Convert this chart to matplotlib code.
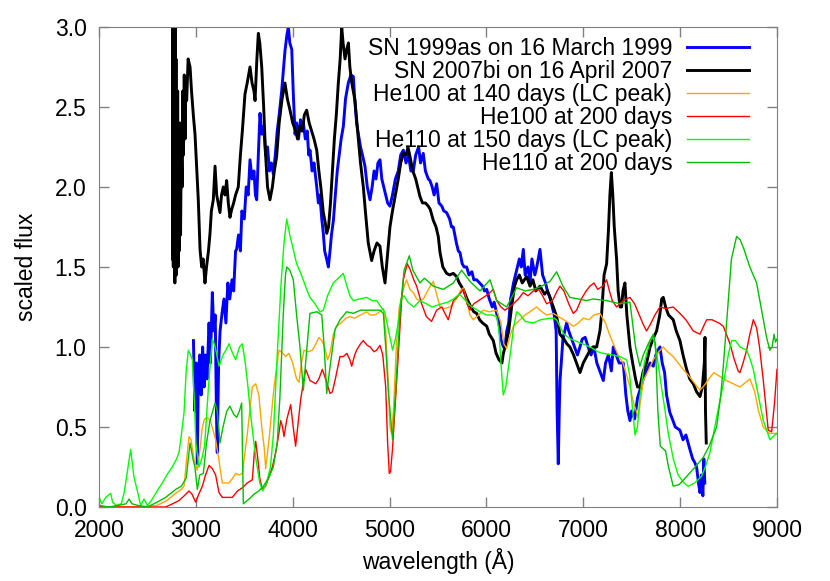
import matplotlib
matplotlib.use("Agg")
import matplotlib.pyplot as plt

plt.rcParams['font.family'] = ['Liberation Sans', 'DejaVu Sans']
plt.rcParams['font.size'] = 16.5

# SN 1999as (observed)
sn99_wl = [2975, 2990, 3005, 3015, 3025, 3040, 3055, 3070, 3085, 3100, 3115, 3136, 3150, 3170, 3185,
           3200, 3212, 3221, 3235, 3250, 3270, 3290, 3310, 3330, 3350, 3373, 3390, 3410, 3421, 3440,
           3460, 3475, 3500, 3520, 3540, 3559, 3580, 3600, 3615, 3628, 3645, 3662, 3680, 3700, 3720,
           3740, 3760, 3780, 3800, 3820, 3840, 3860, 3886, 3900, 3920, 3940, 3955, 3970, 3990, 4005,
           4024, 4040, 4060, 4080, 4095, 4110, 4130, 4150, 4165, 4179, 4200, 4220, 4248, 4265, 4280,
           4300, 4316, 4330, 4350, 4368, 4385, 4400, 4420, 4440, 4460, 4480, 4500, 4523, 4545, 4560,
           4574, 4600, 4626, 4640, 4660, 4678, 4700, 4720, 4746, 4770, 4798, 4820, 4840, 4860, 4880,
           4901, 4920, 4940, 4960, 4980, 5004, 5030, 5060, 5090, 5115, 5142, 5170, 5195, 5220, 5245,
           5270, 5300, 5320, 5348, 5370, 5400, 5417, 5440, 5460, 5486, 5510, 5540, 5560, 5589, 5620,
           5640, 5658, 5690, 5710, 5727, 5750, 5770, 5796, 5820, 5850, 5870, 5899, 5930, 5960, 5980,
           6003, 6030, 6060, 6080, 6106, 6130, 6150, 6175, 6192, 6210, 6230, 6250, 6280, 6312, 6340,
           6360, 6381, 6400, 6430, 6450, 6470, 6500, 6520, 6553, 6580, 6610, 6630, 6656, 6680, 6700,
           6720, 6730, 6742, 6752, 6760, 6790, 6828, 6850, 6880, 6910, 6940, 6966, 6990, 7020, 7050,
           7080, 7110, 7140, 7170, 7207, 7230, 7260, 7290, 7310, 7340, 7370, 7413, 7440, 7460, 7482,
           7500, 7530, 7560, 7585, 7620, 7650, 7690, 7723, 7750, 7770, 7792, 7815, 7840, 7860, 7894,
           7920, 7950, 7998, 8030, 8060, 8101, 8130, 8150, 8170, 8190, 8205, 8220, 8235, 8245, 8255]
sn99_flux = [1.04, 0.60, 0.90, 0.27, 0.80, 0.95, 0.70, 1.00, 0.75, 0.95, 0.80, 1.15, 0.90, 1.34, 1.10,
             1.20, 0.60, 0.34, 0.90, 1.10, 1.21, 1.30, 1.15, 1.40, 1.30, 1.42, 1.35, 1.60, 1.61, 1.70,
             1.60, 1.85, 1.80, 2.00, 1.95, 2.17, 2.05, 2.10, 1.95, 1.92, 2.20, 2.46, 2.33, 2.38, 2.20,
             2.25, 2.10, 2.15, 2.08, 2.20, 2.35, 2.45, 2.60, 2.70, 2.85, 2.95, 3.00, 2.90, 2.86, 2.60,
             2.33, 2.40, 2.30, 2.42, 2.35, 2.40, 2.30, 2.35, 2.20, 2.23, 2.10, 2.15, 2.00, 1.90, 1.95,
             1.80, 1.71, 1.60, 1.55, 1.50, 1.60, 1.70, 1.79, 1.95, 2.10, 2.20, 2.30, 2.38, 2.55, 2.60,
             2.65, 2.70, 2.69, 2.55, 2.40, 2.33, 2.25, 2.20, 2.13, 2.00, 1.92, 2.00, 2.10, 2.05, 2.15,
             2.17, 2.05, 2.00, 1.95, 1.90, 1.88, 1.95, 2.05, 2.10, 2.20, 2.23, 2.15, 2.20, 2.10, 2.10,
             2.20, 2.25, 2.15, 2.21, 2.10, 2.05, 2.04, 2.00, 1.95, 2.02, 1.90, 1.88, 1.85, 1.84, 1.80,
             1.75, 1.75, 1.65, 1.60, 1.59, 1.52, 1.50, 1.50, 1.45, 1.47, 1.42, 1.42, 1.40, 1.38, 1.35,
             1.36, 1.30, 1.25, 1.28, 1.21, 1.15, 1.05, 1.00, 1.00, 1.10, 1.15, 1.30, 1.40, 1.48, 1.55,
             1.50, 1.61, 1.45, 1.50, 1.40, 1.55, 1.45, 1.50, 1.61, 1.45, 1.40, 1.35, 1.31, 1.25, 1.20,
             1.10, 0.60, 0.27, 0.60, 0.79, 1.05, 1.15, 1.10, 1.05, 1.00, 0.95, 1.00, 1.05, 1.06, 1.00,
             0.95, 1.00, 0.90, 0.85, 0.79, 0.90, 0.95, 0.85, 1.00, 0.95, 0.90, 0.90, 0.70, 0.60, 0.54,
             0.60, 0.55, 0.68, 0.73, 0.80, 0.85, 0.90, 0.88, 0.95, 0.98, 1.00, 0.90, 0.84, 0.70, 0.59,
             0.55, 0.50, 0.48, 0.42, 0.45, 0.36, 0.30, 0.28, 0.25, 0.15, 0.09, 0.20, 0.07, 0.30, 0.15]

# SN 2007bi (observed)
sn07_wl = [2760, 2763, 2767, 2771, 2775, 2779, 2783, 2787, 2791, 2795, 2799, 2803, 2808, 2812, 2816,
           2822, 2828, 2835, 2842, 2850, 2858, 2865, 2872, 2880, 2888, 2895, 2905, 2920, 2940, 2955,
           2975, 2991, 3010, 3025, 3043, 3060, 3075, 3094, 3110, 3130, 3146, 3160, 3180, 3198, 3215,
           3230, 3249, 3265, 3283, 3300, 3318, 3335, 3352, 3370, 3390, 3410, 3438, 3460, 3480, 3507,
           3530, 3559, 3580, 3600, 3611, 3630, 3645, 3660, 3680, 3700, 3720, 3740, 3765, 3790, 3810,
           3834, 3860, 3890, 3920, 3945, 3972, 4000, 4030, 4050, 4075, 4100, 4120, 4144, 4170, 4195,
           4220, 4248, 4270, 4290, 4316, 4335, 4351, 4370, 4390, 4410, 4430, 4450, 4471, 4490, 4506,
           4520, 4540, 4558, 4575, 4590, 4610, 4643, 4670, 4700, 4729, 4750, 4780, 4815, 4840, 4870,
           4901, 4925, 4953, 4975, 5004, 5030, 5060, 5090, 5115, 5142, 5170, 5190, 5211, 5240, 5270,
           5290, 5314, 5340, 5370, 5400, 5420, 5452, 5480, 5503, 5521, 5550, 5589, 5620, 5658, 5692,
           5720, 5761, 5800, 5840, 5870, 5899, 5930, 5960, 6003, 6030, 6071, 6100, 6130, 6160, 6175,
           6200, 6230, 6260, 6290, 6312, 6340, 6370, 6415, 6450, 6480, 6510, 6553, 6600, 6630, 6656,
           6690, 6725, 6759, 6800, 6830, 6862, 6900, 6930, 6966, 7000, 7035, 7070, 7100, 7138, 7172,
           7190, 7215, 7241, 7260, 7275, 7290, 7305, 7320, 7344, 7360, 7380, 7396, 7410, 7430, 7450,
           7482, 7510, 7540, 7560, 7585, 7620, 7654, 7690, 7720, 7757, 7790, 7810, 7826, 7850, 7880,
           7929, 7960, 7998, 8030, 8067, 8100, 8136, 8170, 8205, 8230, 8250, 8257, 8262, 8270]
sn07_flux = [1.55, 3.00, 1.50, 3.00, 1.60, 2.90, 1.40, 3.00, 1.80, 2.80, 1.45, 2.50, 1.70, 2.60, 1.50,
             2.20, 1.60, 2.40, 1.70, 2.30, 2.00, 2.60, 2.20, 2.70, 2.30, 2.60, 2.54, 2.80, 2.75, 2.60,
             2.44, 2.33, 2.10, 1.92, 1.61, 1.50, 1.55, 1.40, 1.50, 1.60, 1.71, 1.85, 1.92, 2.13, 1.95,
             1.90, 1.84, 1.95, 2.00, 1.95, 2.04, 1.90, 1.81, 1.86, 1.90, 1.95, 2.00, 2.20, 2.35, 2.58,
             2.65, 2.75, 2.65, 2.60, 2.54, 2.80, 2.96, 2.90, 2.75, 2.50, 2.20, 2.00, 1.92, 2.00, 2.10,
             2.19, 2.40, 2.55, 2.65, 2.55, 2.48, 2.40, 2.35, 2.30, 2.38, 2.35, 2.45, 2.48, 2.40, 2.35,
             2.30, 2.23, 2.10, 2.00, 1.84, 1.78, 1.71, 1.75, 1.90, 2.10, 2.30, 2.45, 2.65, 2.80, 3.00,
             2.90, 2.80, 2.86, 2.90, 2.75, 2.65, 2.54, 2.35, 2.15, 2.00, 1.85, 1.65, 1.54, 1.60, 1.65,
             1.63, 1.50, 1.40, 1.55, 1.75, 1.85, 1.95, 2.05, 2.15, 2.21, 2.20, 2.25, 2.19, 2.10, 2.05,
             2.00, 1.94, 1.90, 1.90, 1.88, 1.86, 1.79, 1.75, 1.69, 1.59, 1.50, 1.46, 1.45, 1.46, 1.44,
             1.40, 1.36, 1.30, 1.25, 1.22, 1.21, 1.17, 1.15, 1.13, 1.08, 1.04, 0.96, 0.92, 0.90, 0.96,
             1.02, 1.10, 1.25, 1.38, 1.42, 1.45, 1.40, 1.44, 1.38, 1.42, 1.35, 1.38, 1.33, 1.35, 1.31,
             1.25, 1.19, 1.08, 1.05, 1.02, 1.00, 0.95, 0.90, 0.84, 0.90, 0.94, 0.98, 1.00, 1.00, 1.10,
             1.21, 1.45, 1.52, 1.73, 1.95, 2.09, 1.95, 1.75, 1.55, 1.35, 1.25, 1.25, 1.35, 1.40, 1.20,
             1.00, 0.90, 0.80, 0.75, 0.75, 0.85, 0.90, 1.00, 1.05, 1.10, 1.20, 1.30, 1.31, 1.25, 1.20,
             1.17, 1.10, 1.04, 0.95, 0.86, 0.80, 0.77, 0.72, 0.69, 0.75, 0.90, 1.06, 0.60, 0.40]

# He100 at 140 days
he100a_wl = [2000, 2200, 2400, 2600, 2700, 2792, 2850, 2878, 2905, 2929, 2950, 2980, 3015, 3040, 3067,
             3090, 3118, 3150, 3204, 3239, 3273, 3310, 3342, 3380, 3411, 3450, 3480, 3530, 3583, 3618,
             3650, 3680, 3704, 3721, 3760, 3807, 3858, 3900, 3927, 3960, 4000, 4040, 4065, 4090, 4117,
             4160, 4203, 4240, 4271, 4300, 4330, 4360, 4385, 4420, 4454, 4500, 4550, 4591, 4640, 4700,
             4764, 4800, 4850, 4900, 4936, 4960, 4985, 5005, 5021, 5040, 5070, 5100, 5124, 5150, 5176,
             5210, 5245, 5280, 5314, 5350, 5383, 5420, 5452, 5490, 5521, 5570, 5624, 5690, 5730, 5761,
             5800, 5830, 5864, 5920, 5968, 6030, 6106, 6150, 6180, 6209, 6250, 6280, 6347, 6400, 6450,
             6519, 6553, 6620, 6691, 6743, 6800, 6850, 6897, 6950, 7000, 7060, 7110, 7172, 7230, 7270,
             7310, 7360, 7410, 7450, 7482, 7520, 7568, 7600, 7620, 7670, 7723, 7780, 7826, 7870, 7929,
             7980, 8032, 8090, 8140, 8205, 8250, 8308, 8350, 8400, 8480, 8550, 8618, 8680, 8721, 8770,
             8810, 8858, 8920, 9000]
he100a_flux = [0.00, 0.00, 0.00, 0.01, 0.04, 0.085, 0.11, 0.13, 0.30, 0.44, 0.42, 0.30, 0.23, 0.35, 0.50,
               0.55, 0.56, 0.54, 0.42, 0.29, 0.15, 0.15, 0.15, 0.18, 0.21, 0.20, 0.21, 0.45, 0.75, 0.77,
               0.70, 0.50, 0.38, 0.24, 0.45, 0.75, 0.98, 0.96, 0.94, 0.96, 0.90, 0.80, 0.78, 0.90, 0.98,
               0.97, 0.98, 1.02, 1.06, 1.04, 1.00, 0.92, 0.96, 1.08, 1.13, 1.15, 1.18, 1.19, 1.18, 1.20,
               1.22, 1.20, 1.20, 1.22, 1.24, 1.10, 0.80, 0.50, 0.46, 0.60, 1.00, 1.25, 1.31, 1.38, 1.42,
               1.36, 1.34, 1.30, 1.29, 1.30, 1.34, 1.38, 1.41, 1.32, 1.25, 1.24, 1.25, 1.30, 1.35, 1.37,
               1.28, 1.20, 1.17, 1.20, 1.23, 1.22, 1.23, 1.15, 1.02, 0.99, 1.08, 1.13, 1.17, 1.20, 1.22,
               1.25, 1.23, 1.20, 1.21, 1.19, 1.17, 1.15, 1.13, 1.15, 1.18, 1.17, 1.20, 1.21, 1.15, 1.08,
               1.02, 0.95, 0.90, 0.82, 0.75, 0.65, 0.56, 0.70, 0.79, 0.85, 0.92, 0.97, 1.00, 0.97, 0.94,
               0.90, 0.86, 0.82, 0.78, 0.73, 0.76, 0.81, 0.84, 0.82, 0.79, 0.77, 0.75, 0.78, 0.80, 0.72,
               0.60, 0.50, 0.46, 0.46]

# He100 at 200 days
he100b_wl = [2000, 2400, 2688, 2760, 2826, 2880, 2929, 2960, 2998, 3030, 3067, 3100, 3136, 3170, 3204,
             3239, 3273, 3330, 3376, 3430, 3480, 3530, 3583, 3605, 3618, 3640, 3660, 3686, 3720, 3755,
             3790, 3824, 3855, 3876, 3895, 3910, 3940, 3979, 4005, 4030, 4060, 4082, 4110, 4134, 4160,
             4178, 4210, 4237, 4270, 4306, 4340, 4385, 4410, 4440, 4488, 4522, 4560, 4590, 4609, 4640,
             4660, 4700, 4729, 4770, 4800, 4840, 4867, 4901, 4930, 4960, 4980, 4997, 5010, 5030, 5060,
             5090, 5124, 5142, 5183, 5215, 5250, 5280, 5331, 5380, 5434, 5486, 5540, 5580, 5606, 5658,
             5710, 5761, 5800, 5830, 5870, 5920, 5968, 6020, 6071, 6106, 6150, 6192, 6240, 6278, 6330,
             6381, 6430, 6484, 6540, 6580, 6622, 6660, 6691, 6730, 6760, 6800, 6850, 6897, 6932, 6980,
             7030, 7069, 7110, 7150, 7200, 7241, 7270, 7300, 7344, 7380, 7413, 7482, 7530, 7585, 7620,
             7654, 7700, 7740, 7792, 7850, 7929, 7998, 8060, 8136, 8205, 8250, 8274, 8330, 8400, 8446,
             8515, 8560, 8600, 8618, 8650, 8687, 8720, 8756, 8790, 8820, 8859, 8890, 8910, 8945, 8975,
             9000]
he100b_flux = [0.00, 0.00, 0.00, 0.02, 0.04, 0.07, 0.10, 0.08, 0.03, 0.08, 0.13, 0.20, 0.26, 0.24, 0.20,
               0.09, 0.06, 0.06, 0.06, 0.10, 0.12, 0.15, 0.17, 0.35, 0.41, 0.30, 0.18, 0.11, 0.13, 0.19,
               0.25, 0.34, 0.45, 0.54, 0.50, 0.44, 0.55, 0.64, 0.50, 0.38, 0.55, 0.67, 0.78, 0.86, 0.82,
               0.79, 0.78, 0.77, 0.80, 0.86, 0.80, 0.71, 0.72, 0.80, 0.94, 0.94, 0.96, 0.92, 0.88, 0.95,
               0.98, 1.02, 1.04, 1.01, 1.00, 0.97, 0.98, 1.01, 0.95, 0.75, 0.40, 0.21, 0.22, 0.36, 0.65,
               0.95, 1.29, 1.42, 1.52, 1.48, 1.42, 1.38, 1.27, 1.19, 1.16, 1.23, 1.25, 1.20, 1.17, 1.29,
               1.32, 1.36, 1.27, 1.23, 1.27, 1.29, 1.31, 1.33, 1.36, 1.29, 1.25, 1.23, 1.25, 1.27, 1.30,
               1.34, 1.32, 1.35, 1.36, 1.32, 1.27, 1.28, 1.30, 1.35, 1.38, 1.35, 1.27, 1.21, 1.23, 1.30,
               1.35, 1.38, 1.40, 1.36, 1.38, 1.42, 1.35, 1.29, 1.25, 1.27, 1.29, 1.31, 1.27, 1.19, 1.14,
               1.10, 1.15, 1.20, 1.25, 1.24, 1.25, 1.21, 1.17, 1.10, 1.08, 1.14, 1.17, 1.17, 1.15, 1.13,
               1.02, 0.92, 0.85, 0.84, 0.90, 0.98, 1.08, 1.17, 1.12, 1.00, 0.79, 0.60, 0.48, 0.47, 0.65,
               0.86]

# He110 at 150 days
he110a_wl = [2000, 2030, 2070, 2121, 2140, 2180, 2230, 2258, 2290, 2327, 2360, 2396, 2430, 2465, 2499,
             2540, 2585, 2620, 2654, 2700, 2757, 2800, 2826, 2850, 2878, 2900, 2922, 2945, 2964, 2985,
             3000, 3032, 3060, 3090, 3130, 3170, 3200, 3239, 3280, 3310, 3342, 3380, 3411, 3450, 3480,
             3510, 3531, 3570, 3620, 3660, 3690, 3730, 3770, 3800, 3840, 3880, 3910, 3938, 3970, 4010,
             4041, 4090, 4144, 4178, 4230, 4282, 4316, 4360, 4419, 4470, 4522, 4560, 4591, 4626, 4690,
             4764, 4820, 4867, 4900, 4950, 4990, 5031, 5060, 5090, 5120, 5150, 5190, 5250, 5314, 5380,
             5440, 5487, 5540, 5600, 5660, 5720, 5770, 5830, 5880, 5934, 6000, 6060, 6106, 6130, 6150,
             6174, 6200, 6243, 6280, 6312, 6350, 6400, 6484, 6560, 6656, 6700, 6725, 6800, 6870, 6950,
             7035, 7100, 7150, 7207, 7300, 7379, 7448, 7480, 7510, 7535, 7560, 7585, 7630, 7690, 7723,
             7760, 7800, 7840, 7878, 7930, 7980, 8040, 8084, 8150, 8220, 8260, 8308, 8377, 8446, 8500,
             8532, 8570, 8620, 8687, 8720, 8756, 8800, 8859, 8928, 8960, 9000]
he110a_flux = [0.06, 0.02, 0.06, 0.085, 0.03, 0.01, 0.02, 0.085, 0.21, 0.36, 0.19, 0.10, 0.01, 0.05, 0.01,
               0.04, 0.085, 0.12, 0.15, 0.20, 0.25, 0.30, 0.34, 0.45, 0.59, 0.85, 0.98, 0.95, 0.92, 0.65,
               0.40, 0.25, 0.30, 0.38, 0.75, 1.05, 1.00, 0.88, 0.95, 0.98, 1.02, 0.96, 0.92, 1.00, 1.02,
               0.90, 0.79, 0.55, 0.30, 0.15, 0.10, 0.15, 0.25, 0.45, 0.95, 1.40, 1.65, 1.80, 1.70, 1.60,
               1.52, 1.45, 1.36, 1.31, 1.27, 1.22, 1.23, 1.32, 1.40, 1.43, 1.46, 1.38, 1.32, 1.29, 1.30,
               1.31, 1.29, 1.29, 1.26, 1.22, 1.10, 0.98, 1.05, 1.15, 1.30, 1.32, 1.28, 1.25, 1.29, 1.27,
               1.25, 1.26, 1.27, 1.28, 1.30, 1.33, 1.30, 1.26, 1.24, 1.22, 1.20, 1.20, 1.19, 1.10, 0.90,
               0.70, 0.75, 0.94, 1.12, 1.22, 1.20, 1.16, 1.15, 1.17, 1.18, 1.18, 1.17, 1.08, 1.05, 1.03,
               1.01, 0.99, 0.97, 0.96, 0.95, 0.94, 0.92, 0.82, 0.60, 0.45, 0.50, 0.69, 0.90, 1.04, 1.06,
               0.95, 0.78, 0.62, 0.46, 0.30, 0.20, 0.15, 0.13, 0.15, 0.19, 0.25, 0.34, 0.56, 0.77, 0.96,
               1.04, 1.04, 1.00, 0.98, 0.93, 0.86, 0.72, 0.54, 0.42, 0.44, 0.46]

# He110 at 200 days
he110b_wl = [2000, 2100, 2200, 2280, 2310, 2340, 2400, 2500, 2600, 2688, 2792, 2850, 2900, 2940, 2970,
             2990, 3015, 3040, 3077, 3110, 3146, 3198, 3220, 3249, 3280, 3320, 3352, 3390, 3421, 3450,
             3473, 3482, 3490, 3550, 3600, 3650, 3697, 3750, 3800, 3840, 3868, 3903, 3925, 3938, 3970,
             4006, 4040, 4075, 4110, 4140, 4178, 4250, 4300, 4325, 4351, 4380, 4437, 4488, 4557, 4626,
             4700, 4764, 4850, 4901, 4936, 4960, 4990, 5031, 5060, 5108, 5150, 5204, 5240, 5314, 5360,
             5452, 5555, 5658, 5744, 5830, 5934, 6037, 6106, 6209, 6312, 6400, 6484, 6570, 6656, 6725,
             6790, 6862, 6950, 7035, 7100, 7241, 7379, 7482, 7540, 7585, 7620, 7671, 7723, 7745, 7770,
             7795, 7850, 7880, 7929, 7990, 8067, 8170, 8239, 8300, 8377, 8420, 8446, 8497, 8530, 8583,
             8620, 8654, 8720, 8790, 8850, 8893, 8926, 8950, 8970, 8985, 9000]
he110b_flux = [0.01, 0.00, 0.01, 0.02, 0.05, 0.02, 0.01, 0.00, 0.03, 0.06, 0.11, 0.13, 0.18, 0.40, 0.30,
               0.25, 0.11, 0.20, 0.21, 0.40, 0.54, 0.65, 0.60, 0.40, 0.50, 0.60, 0.63, 0.58, 0.56, 0.60,
               0.65, 0.30, 0.02, 0.05, 0.08, 0.10, 0.13, 0.18, 0.25, 0.40, 0.69, 1.21, 1.45, 1.50, 1.48,
               1.42, 1.20, 1.00, 0.73, 0.95, 1.21, 1.22, 1.20, 1.00, 0.71, 0.85, 1.11, 1.17, 1.22, 1.21,
               1.23, 1.23, 1.23, 1.23, 1.21, 1.00, 0.70, 0.42, 0.70, 1.21, 1.48, 1.57, 1.48, 1.40, 1.43,
               1.38, 1.36, 1.40, 1.48, 1.41, 1.35, 1.42, 1.29, 1.25, 1.37, 1.35, 1.36, 1.38, 1.41, 1.47,
               1.38, 1.31, 1.30, 1.29, 1.30, 1.29, 1.27, 1.28, 1.00, 0.88, 0.95, 1.02, 1.08, 1.02, 0.60,
               0.38, 0.35, 0.25, 0.13, 0.14, 0.19, 0.26, 0.31, 0.38, 0.50, 0.70, 0.88, 1.29, 1.55, 1.69,
               1.67, 1.62, 1.50, 1.40, 1.20, 1.06, 0.98, 1.00, 1.08, 1.03, 1.05]

fig = plt.figure(figsize=(8.3, 5.81), dpi=100)
ax = fig.add_axes([0.1193, 0.1274, 0.8168, 0.8262])

ax.plot(sn99_wl, sn99_flux, color='#0000ff', lw=2.1, label='SN 1999as on 16 March 1999')
ax.plot(sn07_wl, sn07_flux, color='black', lw=2.1, label='SN 2007bi on 16 April 2007')
ax.plot(he100a_wl, he100a_flux, color='#ffa500', lw=1.0, label='He100 at 140 days (LC peak)')
ax.plot(he100b_wl, he100b_flux, color='#ff0000', lw=1.0, label='He100 at 200 days')
ax.plot(he110a_wl, he110a_flux, color='#00ff00', lw=1.0, label='He110 at 150 days (LC peak)')
ax.plot(he110b_wl, he110b_flux, color='#00c000', lw=1.0, label='He110 at 200 days')

ax.set_xlim(2000, 9000)
ax.set_ylim(0, 3)
ax.set_xticks(range(2000, 9001, 1000))
ax.set_yticks([0, 0.5, 1.0, 1.5, 2.0, 2.5, 3.0])
ax.set_yticklabels(['0.0', '0.5', '1.0', '1.5', '2.0', '2.5', '3.0'])
ax.tick_params(direction='in', length=7, width=1, color='gray', top=True, right=True, pad=9)
for s in ax.spines.values():
    s.set_color('gray')

ax.set_xlabel('wavelength (Å)', labelpad=4)
ax.set_ylabel('scaled flux', labelpad=12)

ax.legend(loc='upper right', bbox_to_anchor=(0.9587, 0.979), frameon=False, markerfirst=False,
          borderaxespad=0, borderpad=0, handlelength=2.7, handletextpad=0.65, labelspacing=0.0)

fig.savefig('out.png', dpi=100)
